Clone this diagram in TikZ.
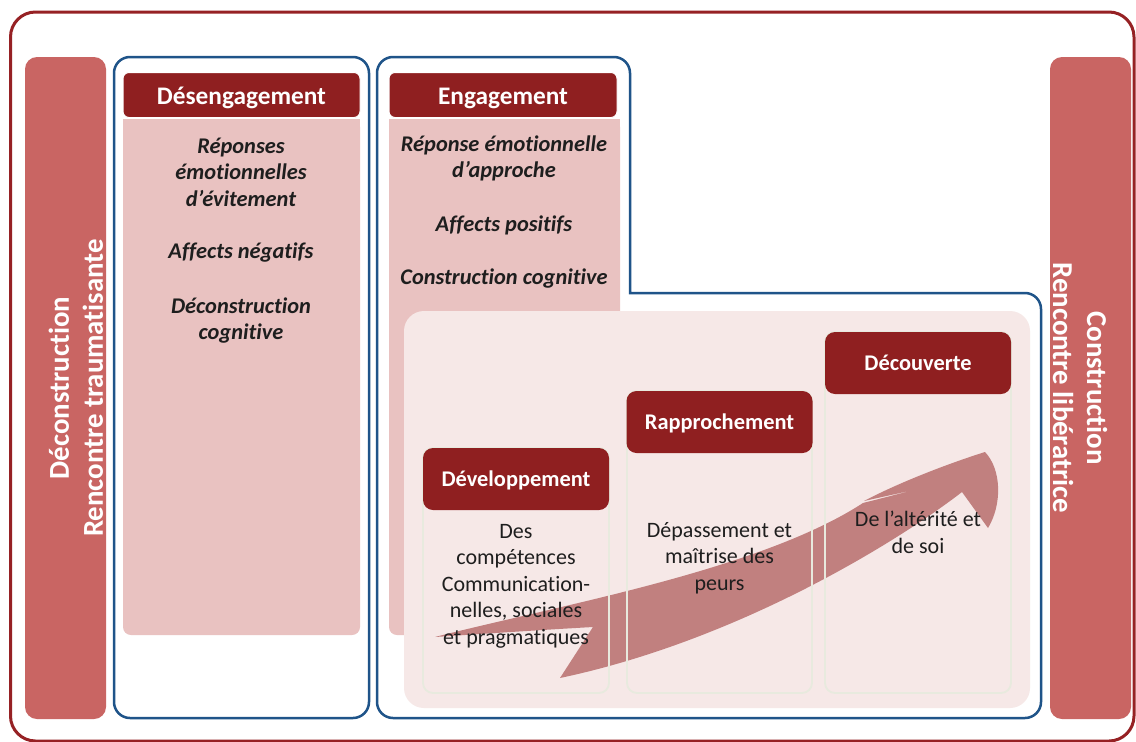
\documentclass[tikz,border=0pt]{standalone}
\usepackage{fontspec}
\setmainfont{Carlito}[Ligatures={NoCommon}]
\definecolor{framered}{RGB}{150,33,36}
\definecolor{barred}{RGB}{201,101,99}
\definecolor{hdrred}{RGB}{143,31,32}
\definecolor{bodypink}{RGB}{233,194,193}
\definecolor{panelpink}{RGB}{246,232,231}
\definecolor{boxblue}{RGB}{31,84,137}
\definecolor{arrowred}{RGB}{193,128,127}
\definecolor{colline}{RGB}{232,234,222}
\definecolor{txt}{RGB}{30,30,30}
\begin{document}
\begin{tikzpicture}[x=1pt,y=-1pt,
  bartext/.style={text=white, align=center, font=\bfseries\fontsize{28.8}{34}\selectfont},
  tophdr/.style={fill=hdrred, draw=white, line width=1pt, rounded corners=6pt, text=white, font=\bfseries\fontsize{25.3}{29}\selectfont, minimum height=45pt, inner sep=0pt, text height=22pt, text depth=4pt},
  stephdr/.style={fill=hdrred, rounded corners=10pt, text=white, font=\bfseries\fontsize{22.4}{26}\selectfont, minimum width=186pt, minimum height=62pt, inner sep=0pt, text height=18pt, text depth=3pt},
  itemtext/.style={text=txt, align=center, font=\bfseries\itshape\fontsize{22.4}{26.5}\selectfont},
  coltext/.style={text=txt, align=center, font=\fontsize{22}{26.5}\selectfont},
  colbox/.style={draw=colline, line width=1.8pt, rounded corners=10pt},
  bluebox/.style={draw=boxblue, line width=2.5pt, rounded corners=16pt},
]
\useasboundingbox (0,0) rectangle (1136,742);
\fill[white] (0,0) rectangle (1136,742);
\draw[framered, line width=3pt, rounded corners=25pt] (10.5,12) rectangle (1134,741);

% side bars
\fill[barred, rounded corners=12pt] (25,57) rectangle (106,719);
\fill[barred, rounded corners=12pt] (1050,57) rectangle (1131,719);
\node[bartext, rotate=90] (leftbar) at (76,388) {Déconstruction\\Rencontre traumatisante};
\node[bartext, rotate=-90] (rightbar) at (1080,388) {Construction\\Rencontre libératrice};

% Désengagement column
\draw[bluebox] (114,57) rectangle (369,718);
\fill[bodypink, rounded corners=8pt] (123,119) rectangle (360,635);
\fill[bodypink] (123,119) rectangle (360,140);
\node[tophdr, minimum width=237pt] (hdis) at (241.5,95) {Désengagement};
\node[itemtext] (d1) at (241,172) {Réponses\\émotionnelles\\d’évitement};
\node[itemtext] (d2) at (241,253) {Affects négatifs};
\node[itemtext] (d3) at (241,320.5) {Déconstruction\\cognitive};

% Engagement column
\fill[bodypink, rounded corners=8pt] (389,119) rectangle (620,635);
\fill[bodypink] (389,119) rectangle (620,140);
\node[tophdr, minimum width=228pt] (heng) at (503,95) {Engagement};
\node[itemtext] (e1) at (504,158.5) {Réponse émotionnelle\\d’approche};
\node[itemtext] (e2) at (504,225) {Affects positifs};
\node[itemtext] (e3) at (504,279) {Construction cognitive};
\draw[boxblue, line width=2.5pt, line cap=rect, rounded corners=16pt]
  (630,293) -- (1041,293) -- (1041,718) -- (377,718) -- (377,57) -- (630,57) [sharp corners] -- (630,293);

% steps panel
\fill[panelpink, rounded corners=20pt] (404,311) rectangle (1030,708);

% swoosh arrow
\fill[arrowred]
  (435,637) .. controls (560,605) and (760,570) .. (863,503)
  -- (918,489) -- (864,501)
  .. controls (900,482) and (950,463) .. (985,452)
  .. controls (1002,470) and (1002,505) .. (988,528)
  -- (962,492)
  .. controls (900,540) and (740,640) .. (560,678)
  -- (593,627)
  .. controls (540,630) and (480,634) .. (435,637) -- cycle;

% step columns
\draw[colbox] (423,448) rectangle (609,693);
\draw[colbox] (627,391) rectangle (812,693);
\draw[colbox] (825,332) rectangle (1011,693);
\node[stephdr] (dev) at (516,479) {Développement};
\node[stephdr] (rap) at (719.5,422) {Rapprochement};
\node[stephdr] (dec) at (918,363) {Découverte};
\node[coltext] (t1) at (516,586) {Des\\compétences\\Communication-\\nelles, sociales\\et pragmatiques};
\node[coltext] (t2) at (719.5,558) {Dépassement et\\maîtrise des\\peurs};
\node[coltext] (t3) at (918,532.5) {De l’altérité et\\de soi};
\end{tikzpicture}
\end{document}
